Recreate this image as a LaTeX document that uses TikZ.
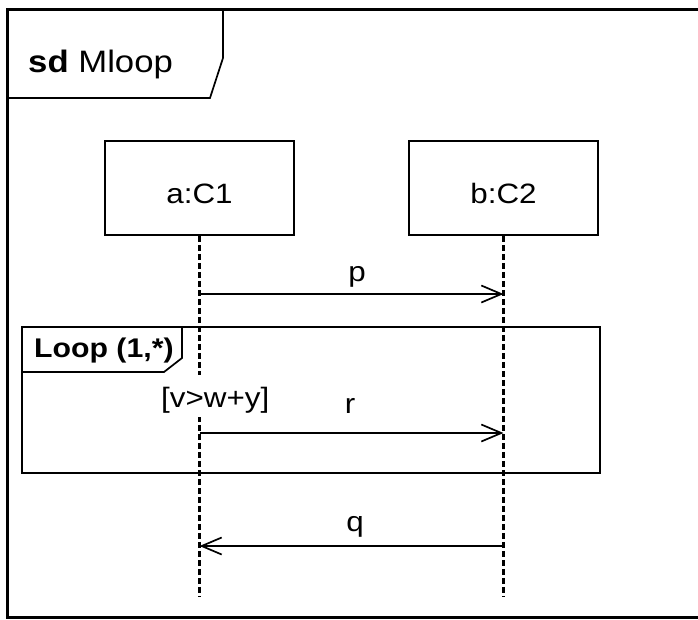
\documentclass[tikz,border=0pt]{standalone}
\usepackage{fontspec}
\setmainfont{Liberation Sans}[FakeStretch=1.12]
\usetikzlibrary{arrows.meta}

\begin{document}
\begin{tikzpicture}[x=1pt, y=-1pt,
	lifebox/.style={draw, line width=1.7pt, minimum width=189pt, minimum height=94pt, inner sep=0pt, text height=31pt, text depth=0pt},
	lifeline/.style={line width=2.6pt, dash pattern=on 6pt off 3pt},
	msg/.style={line width=1.7pt, -{Straight Barb[length=20pt, width=17pt, line width=1.7pt]}},
	txt/.style={inner sep=0pt, font=\fontsize{28}{31}\selectfont}]
	\useasboundingbox (0,0) rectangle (698,619);
	\fill[white] (0,0) rectangle (698,619);

	\draw[line width=3pt] (703,9) -- (7,9) -- (7,617) -- (703,617);
	\draw[line width=1.7pt] (7,98) -- (210,98) -- (223,58) -- (223,9);
	\node (title) at (28,72) [txt, anchor=base west, font=\fontsize{31}{34}\selectfont] {\textbf{sd} Mloop};

	\node (a) at (199.5,188) [txt, lifebox] {a:C1};
	\node (b) at (503.5,188) [txt, lifebox] {b:C2};
	\coordinate (a-end) at (199.5,597);
	\coordinate (b-end) at (503.5,597);
	\draw[lifeline] (a.south) to (a-end);
	\draw[lifeline] (b.south) to (b-end);

	\coordinate (a-p) at (199.5,294);
	\coordinate (b-p) at (503.5,294);
	\draw[msg] (a-p) to (b-p);
	\node (p) at (357,281) [txt, anchor=base] {p};

	\draw[line width=2.2pt] (22,327) rectangle (600,473);
	\draw[line width=1.7pt] (22,372) -- (164,372) -- (182,358) -- (182,327);
	\node (loop) at (34,357) [txt, anchor=base west, font=\fontsize{27}{30}\selectfont] {\textbf{Loop (1,*)}};
	\node (guard) at (161,407) [txt, anchor=base west, fill=white, inner ysep=4pt, text height=28pt] {[v>w+y]};

	\coordinate (a-r) at (199.5,433);
	\coordinate (b-r) at (503.5,433);
	\draw[msg] (a-r) to (b-r);
	\node (r) at (350,413) [txt, anchor=base] {r};

	\coordinate (b-q) at (503.5,546);
	\coordinate (a-q) at (199.5,546);
	\draw[msg] (b-q) to (a-q);
	\node (q) at (355,531) [txt, anchor=base] {q};
\end{tikzpicture}
\end{document}
